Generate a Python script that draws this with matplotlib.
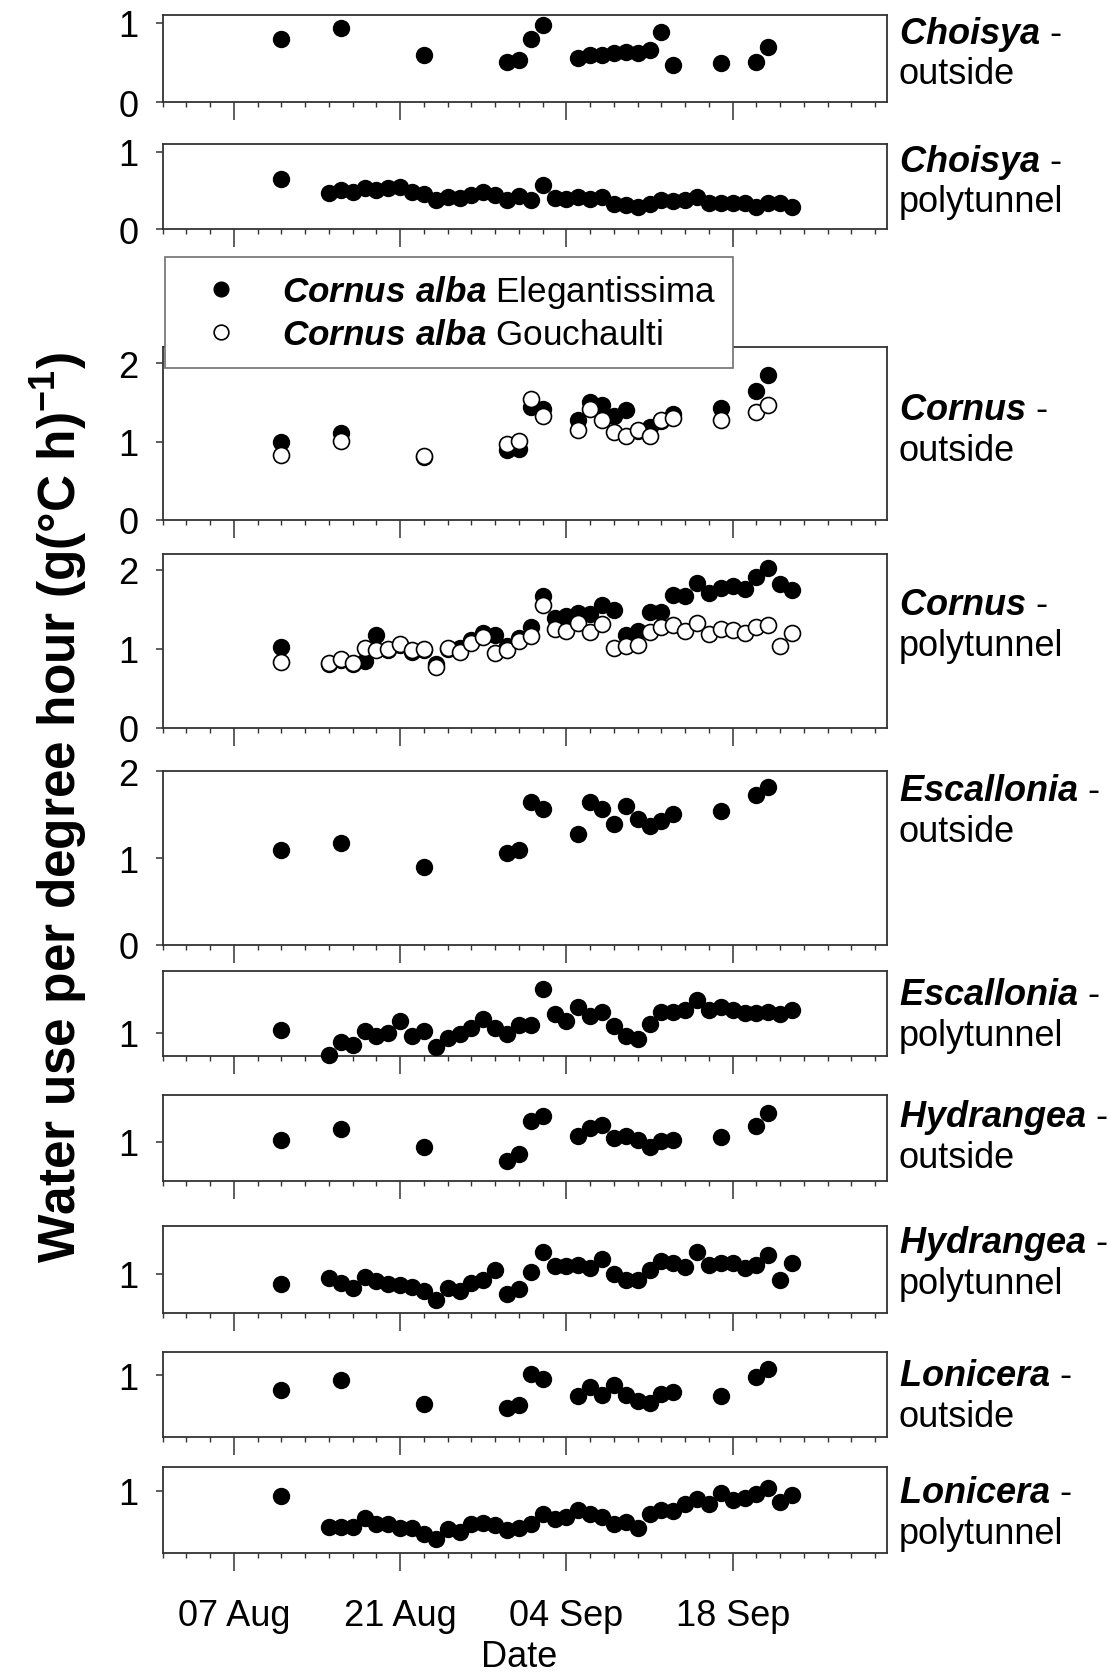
import numpy as np
import pandas as pd
import matplotlib
matplotlib.use("Agg")
import matplotlib.pyplot as plt
import matplotlib.dates as mdates
from matplotlib.ticker import FixedLocator, MultipleLocator, NullFormatter

plt.rcParams["font.family"] = ["Liberation Sans", "DejaVu Sans"]
plt.rcParams["mathtext.fontset"] = "custom"
plt.rcParams["mathtext.it"] = "Liberation Sans:italic:bold"
plt.rcParams["mathtext.rm"] = "Liberation Sans"
plt.rcParams["mathtext.bf"] = "Liberation Sans:bold"

# ---- sampling dates ----
outside_dates = pd.to_datetime([
    "2014-08-11", "2014-08-16", "2014-08-23", "2014-08-30", "2014-08-31",
    "2014-09-01", "2014-09-02", "2014-09-05", "2014-09-06", "2014-09-07",
    "2014-09-08", "2014-09-09", "2014-09-10", "2014-09-11", "2014-09-12",
    "2014-09-13", "2014-09-17", "2014-09-20", "2014-09-21",
])
tunnel_dates = pd.to_datetime(["2014-08-11"]).append(
    pd.date_range("2014-08-15", "2014-09-23", freq="D"))

# ---- water use per degree hour ----
choisya_out = [0.80, 0.94, 0.59, 0.51, 0.53, 0.80, 0.97, 0.56, 0.60, 0.60,
               0.62, 0.63, 0.62, 0.66, 0.88, 0.47, 0.50, 0.51, 0.70]
choisya_tun = [0.65, 0.47, 0.50, 0.48, 0.53, 0.50, 0.53, 0.55, 0.48, 0.45,
               0.37, 0.42, 0.40, 0.44, 0.48, 0.44, 0.37, 0.43, 0.38, 0.57,
               0.40, 0.39, 0.41, 0.39, 0.41, 0.32, 0.31, 0.28, 0.32, 0.37,
               0.36, 0.37, 0.41, 0.34, 0.34, 0.34, 0.34, 0.29, 0.34, 0.34,
               0.29]

cornus_ele_out = [1.00, 1.11, 0.80, 0.89, 0.90, 1.44, 1.41, 1.27, 1.50, 1.46,
                  1.33, 1.40, 1.13, 1.19, 1.26, 1.35, 1.43, 1.64, 1.85]
cornus_gou_out = [0.83, 1.01, 0.81, 0.97, 1.01, 1.54, 1.32, 1.15, 1.41, 1.27,
                  1.12, 1.07, 1.15, 1.07, 1.27, 1.30, 1.27, 1.37, 1.46]

cornus_ele_tun = [1.02, 0.81, 0.86, 0.81, 0.84, 1.18, 0.99, 1.05, 0.96, 0.98,
                  0.81, 1.00, 1.01, 1.11, 1.20, 1.18, 1.04, 1.14, 1.27, 1.67,
                  1.39, 1.42, 1.45, 1.44, 1.55, 1.49, 1.17, 1.23, 1.47, 1.47,
                  1.68, 1.67, 1.83, 1.70, 1.77, 1.80, 1.76, 1.91, 2.02, 1.82,
                  1.75]
cornus_gou_tun = [0.83, 0.82, 0.87, 0.82, 1.01, 0.99, 1.00, 1.06, 0.99, 1.00,
                  0.77, 1.01, 0.96, 1.07, 1.15, 0.94, 0.99, 1.10, 1.16, 1.55,
                  1.25, 1.23, 1.32, 1.21, 1.31, 1.01, 1.04, 1.05, 1.21, 1.28,
                  1.30, 1.22, 1.32, 1.19, 1.25, 1.24, 1.20, 1.28, 1.30, 1.03,
                  1.20]

escallonia_out = [1.09, 1.17, 0.90, 1.06, 1.09, 1.65, 1.57, 1.28, 1.65, 1.57,
                  1.39, 1.60, 1.45, 1.37, 1.43, 1.51, 1.54, 1.73, 1.82]
escallonia_tun = [1.04, 0.72, 0.89, 0.84, 1.03, 0.96, 1.00, 1.15, 0.96, 1.02,
                  0.82, 0.94, 0.99, 1.07, 1.18, 1.06, 0.99, 1.10, 1.10, 1.56,
                  1.24, 1.16, 1.33, 1.22, 1.27, 1.09, 0.96, 0.92, 1.12, 1.27,
                  1.27, 1.30, 1.42, 1.29, 1.33, 1.29, 1.26, 1.26, 1.27, 1.24,
                  1.29]

hydrangea_out = [1.03, 1.16, 0.94, 0.76, 0.85, 1.27, 1.33, 1.08, 1.18, 1.22,
                 1.05, 1.08, 1.02, 0.93, 1.01, 1.02, 1.06, 1.20, 1.37]
hydrangea_tun = [0.87, 0.95, 0.88, 0.82, 0.96, 0.91, 0.87, 0.86, 0.83, 0.78,
                 0.66, 0.82, 0.78, 0.88, 0.92, 1.04, 0.74, 0.81, 1.02, 1.28,
                 1.10, 1.10, 1.11, 1.07, 1.18, 1.00, 0.92, 0.92, 1.05, 1.16,
                 1.14, 1.08, 1.28, 1.11, 1.14, 1.14, 1.07, 1.11, 1.24, 0.92,
                 1.14]

lonicera_out = [0.81, 0.94, 0.63, 0.58, 0.62, 1.02, 0.96, 0.74, 0.85, 0.75,
                0.88, 0.75, 0.67, 0.64, 0.76, 0.79, 0.74, 0.98, 1.09]
lonicera_tun = [0.93, 0.54, 0.54, 0.54, 0.65, 0.57, 0.57, 0.53, 0.52, 0.45,
                0.38, 0.51, 0.47, 0.57, 0.59, 0.56, 0.50, 0.52, 0.57, 0.70,
                0.64, 0.67, 0.76, 0.70, 0.67, 0.57, 0.60, 0.52, 0.70, 0.76,
                0.74, 0.83, 0.90, 0.83, 0.97, 0.88, 0.91, 0.96, 1.04, 0.86,
                0.94]

genera = ["Choisya", "Choisya", "Cornus", "Cornus", "Escallonia",
          "Escallonia", "Hydrangea", "Hydrangea", "Lonicera", "Lonicera"]
sites = ["outside", "polytunnel"] * 5
panel_dates = [outside_dates, tunnel_dates] * 5
panel_values = [choisya_out, choisya_tun, cornus_ele_out, cornus_ele_tun,
                escallonia_out, escallonia_tun, hydrangea_out, hydrangea_tun,
                lonicera_out, lonicera_tun]
panel_open = [None, None, cornus_gou_out, cornus_gou_tun,
              None, None, None, None, None, None]
legend_labels = [r"$Cornus\ alba$ Elegantissima", r"$Cornus\ alba$ Gouchaulti"]

major_dates = pd.to_datetime(["2014-08-07", "2014-08-21", "2014-09-04", "2014-09-18"])
minor_dates = pd.date_range("2014-08-01", "2014-09-30", freq="2D")
x_range = pd.to_datetime(["2014-08-01", "2014-10-01"])

# ---- layout (pixels on a 1109 x 1674 canvas) ----
W, H = 1109, 1674
left_px, right_px = 162.7, 887.0
panel_px = [(16, 103.3), (145, 230), (348.3, 521), (555, 728.7),
            (772.3, 946), (971.7, 1057.3), (1095.7, 1182.3),
            (1227.3, 1314), (1353.3, 1438.3), (1468.3, 1554.3)]
ylims = [(0, 1.1), (0, 1.1), (0, 2.2), (0, 2.2), (0, 2.0),
         (0.7, 1.8), (0.5, 1.6), (0.5, 1.6), (0.2, 1.3), (0.2, 1.3)]
label_y_px = [34, 162, 411, 606, 792, 996, 1117.6, 1243.5, 1377, 1494]
line_gap_px = 40.5

spine_col = "#333333"
fs = 26
ms = 11.5

fig = plt.figure(figsize=(W / 100, H / 100), dpi=100)

axes = []
for i in range(10):
    top, bot = panel_px[i]
    ax = fig.add_axes([left_px / W, 1 - bot / H, (right_px - left_px) / W, (bot - top) / H])
    axes.append(ax)
    d = panel_dates[i]
    ax.plot(d, panel_values[i], "o", ms=ms, mfc="black", mec="black", mew=1.0,
            label=legend_labels[0], zorder=3, clip_on=False)
    if panel_open[i] is not None:
        ax.plot(d, panel_open[i], "o", ms=ms, mfc="white", mec="black", mew=1.2,
                label=legend_labels[1], zorder=4, clip_on=False)

    ax.set_xlim(x_range[0], x_range[1])
    ax.set_ylim(*ylims[i])
    ax.xaxis.set_major_locator(FixedLocator(mdates.date2num(major_dates)))
    ax.xaxis.set_minor_locator(FixedLocator(mdates.date2num(minor_dates)))
    ax.xaxis.set_major_formatter(mdates.DateFormatter("%d %b"))
    ax.xaxis.set_minor_formatter(NullFormatter())
    ax.yaxis.set_major_locator(MultipleLocator(1))

    for s in ax.spines.values():
        s.set_color(spine_col)
        s.set_linewidth(1.3)
    ax.tick_params(axis="x", which="major", direction="out", length=13, width=1.1,
                   color=spine_col, labelsize=fs, pad=19, labelbottom=(i == 9))
    ax.tick_params(axis="x", which="minor", direction="out", length=3.8, width=1.0,
                   color=spine_col)
    ax.tick_params(axis="y", which="major", direction="out", length=5.3, width=1.1,
                   color=spine_col, labelsize=fs, pad=12)

    # panel caption on the right
    y1 = 1 - label_y_px[i] / H
    y2 = 1 - (label_y_px[i] + line_gap_px) / H
    fig.text(899 / W, y1, "$" + genera[i] + "$ -", fontsize=fs, ha="left", va="center")
    fig.text(899 / W, y2, sites[i], fontsize=fs, ha="left", va="center")

# legend for the two Cornus cultivars
leg = axes[2].legend(loc="upper left", bbox_to_anchor=(0.003, 1.523), borderaxespad=0,
                     frameon=True, fancybox=False, framealpha=1, edgecolor="#707070",
                     fontsize=25.3, markerscale=0.92, handlelength=2.25, handletextpad=0.62,
                     borderpad=0.47, labelspacing=0.22)
leg.get_frame().set_linewidth(1.2)
leg.set_zorder(10)

fig.text(519 / W, 1 - 1667 / H, "Date", fontsize=fs, ha="center", va="baseline")
fig.text(59 / W, 1 - 808 / H, r"Water use per degree hour (g(°C h)$^{\mathbf{-1}}$)",
         fontsize=37, fontweight="bold", rotation=90, ha="center", va="center")

fig.savefig("out.png", dpi=100)
